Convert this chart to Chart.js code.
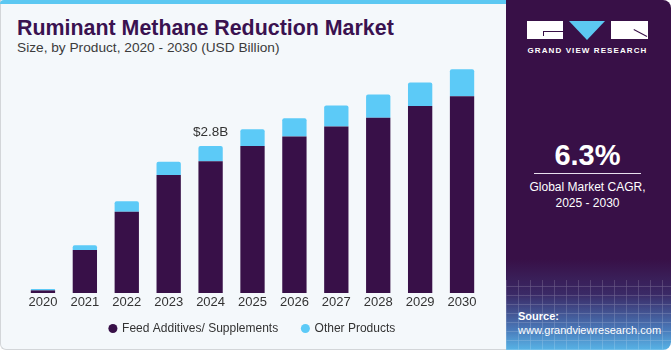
<!DOCTYPE html>
<html>
<head>
<meta charset="utf-8">
<script src="https://cdn.jsdelivr.net/npm/chart.js@4.4.1/dist/chart.umd.min.js"></script>
<style>
    body { margin: 0; width: 671px; height: 350px; overflow: hidden; background: #fff; font-family: "Liberation Sans", Arial, sans-serif; }
    #card { position: absolute; left: 0; top: 0; width: 507px; height: 350px; box-sizing: border-box; background: #f4f8fb; border-left: 1px solid #d3d6d9; border-bottom: 1px solid #d3d6d9; border-radius: 0 0 0 6px; }
    #strip { position: absolute; left: 0; top: 0; width: 507px; height: 4px; background: #5cc8f2; border-radius: 4px 0 0 0; }
    #title { position: absolute; left: 17px; top: 16px; font-size: 21.4px; font-weight: bold; color: #3a1250; white-space: nowrap; }
    #subtitle { position: absolute; left: 17px; top: 40px; font-size: 13.7px; color: #3b3b3b; white-space: nowrap; }
    #chartBox { position: absolute; left: 0; top: 0; width: 505px; height: 358px; }
    #panel { position: absolute; left: 506px; top: 0; width: 165px; height: 350px; border-radius: 0 8px 8px 0; overflow: hidden;
        background: linear-gradient(to bottom, #381047 0%, #381047 74%, #3b2a66 84%, #4a78b8 94%, #58b4e6 100%); }
    #grid { position: absolute; left: 0; bottom: 0; width: 165px; height: 70px; opacity: 0.25;
        background: repeating-linear-gradient(90deg, rgba(255,255,255,0.6) 0 1px, transparent 1px 12px),
                    repeating-linear-gradient(0deg, rgba(255,255,255,0.6) 0 1px, transparent 1px 9px); }
    .logoBlock { position: absolute; top: 21px; height: 18px; background: #fff; }
    #tri { position: absolute; left: 63px; top: 21px; width: 0; height: 0; border-left: 18px solid transparent; border-right: 18px solid transparent; border-top: 19px solid #5cc8f2; }
    #gvr { position: absolute; left: 0; top: 46px; width: 163px; text-align: center; font-size: 8px; font-weight: bold; letter-spacing: 1.1px; color: #fff; }
    #cagr { position: absolute; left: 0; top: 139px; width: 163px; text-align: center; font-size: 29px; font-weight: bold; color: #fff; }
    #rule { position: absolute; left: 28px; top: 173px; width: 107px; height: 1px; background: #e8e0ee; }
    #cagrText { position: absolute; left: 0; top: 179px; width: 163px; text-align: center; font-size: 12px; line-height: 16px; color: #fff; }
    #source { position: absolute; left: 12px; top: 309px; font-size: 11px; line-height: 14px; color: #fff; }
</style>
</head>
<body>
<div id="card"></div>
<div id="strip"></div>
<div id="title">Ruminant Methane Reduction Market</div>
<div id="subtitle">Size, by Product, 2020 - 2030 (USD Billion)</div>
<div id="chartBox"><canvas id="marketChart" width="505" height="358"></canvas></div>

<div id="panel">
    <div id="grid"></div>
    <div class="logoBlock" style="left:21px;width:36px;"></div>
    <div style="position:absolute;left:37px;top:31px;width:20px;height:1px;background:#381047;"></div>
    <div style="position:absolute;left:37px;top:31px;width:1px;height:5px;background:#381047;"></div>
    <div id="tri"></div>
    <div class="logoBlock" style="left:105px;width:37px;"></div>
    <div style="position:absolute;left:128px;top:29px;width:15px;height:1px;background:#381047;transform:rotate(28deg);transform-origin:0 0;"></div>
    <div id="gvr">GRAND VIEW RESEARCH</div>
    <div id="cagr">6.3%</div>
    <div id="rule"></div>
    <div id="cagrText">Global Market CAGR,<br>2025 - 2030</div>
    <div id="source"><b>Source:</b><br>www.grandviewresearch.com</div>
</div>

<script>
const years = ["2020", "2021", "2022", "2023", "2024", "2025", "2026", "2027", "2028", "2029", "2030"];
const feedAdditives = [0.05, 0.82, 1.55, 2.25, 2.51, 2.80, 2.98, 3.17, 3.34, 3.56, 3.75];
const otherProducts = [0.025, 0.09, 0.20, 0.25, 0.29, 0.32, 0.35, 0.40, 0.44, 0.45, 0.51];
const seriesNames = ["Feed Additives/ Supplements", "Other Products"];
const calloutYear = "2024";
const calloutText = "$2.8B";

const darkPurple = "#381048";
const lightBlue = "#5ccaf7";

// Writes the "$2.8B" label above the 2024 stack
const calloutPlugin = {
    id: "callout",
    afterDatasetsDraw(chart) {
        const i = years.indexOf(calloutYear);
        const total = feedAdditives[i] + otherProducts[i];
        const x = chart.scales.x.getPixelForValue(i);
        const y = chart.scales.y.getPixelForValue(total);
        const ctx = chart.ctx;
        ctx.save();
        ctx.font = '13.5px "Liberation Sans", Arial, sans-serif';
        ctx.fillStyle = "#333";
        ctx.textAlign = "center";
        ctx.textBaseline = "middle";
        ctx.fillText(calloutText, x, y - 14);
        ctx.restore();
    }
};

// Legend padding sets both the item gap and the top gap; pull it up closer to the axis
const legendLift = {
    id: "legendLift",
    afterLayout(chart) {
        chart.legend.top -= 13.5;
        chart.legend.bottom -= 13.5;
    }
};

new Chart(document.getElementById("marketChart").getContext("2d"), {
    type: "bar",
    data: {
        labels: years,
        datasets: [
            {
                label: seriesNames[0],
                data: feedAdditives,
                backgroundColor: darkPurple,
                borderWidth: 0
            },
            {
                label: seriesNames[1],
                data: otherProducts,
                backgroundColor: lightBlue,
                borderWidth: 0,
                borderRadius: { topLeft: 2, topRight: 2, bottomLeft: 0, bottomRight: 0 },
                borderSkipped: false
            }
        ]
    },
    options: {
        responsive: false,
        animation: false,
        layout: { padding: { left: 22, right: 22, top: 62, bottom: 0 } },
        datasets: { bar: { categoryPercentage: 1, barPercentage: 0.58 } },
        plugins: {
            legend: {
                position: "bottom",
                labels: {
                    usePointStyle: true,
                    pointStyle: "circle",
                    boxWidth: 6.4,
                    boxHeight: 6.4,
                    padding: 24,
                    color: "#333",
                    font: { size: 12, family: '"Liberation Sans", Arial, sans-serif' }
                }
            },
            tooltip: { enabled: false }
        },
        scales: {
            x: {
                stacked: true,
                grid: { display: false, drawTicks: false },
                border: { display: false },
                ticks: {
                    padding: 1.7,
                    color: "#333",
                    font: { size: 13, family: '"Liberation Sans", Arial, sans-serif' }
                }
            },
            y: {
                stacked: true,
                display: false,
                min: 0,
                max: 4.4
            }
        }
    },
    plugins: [calloutPlugin, legendLift]
});
</script>
</body>
</html>
